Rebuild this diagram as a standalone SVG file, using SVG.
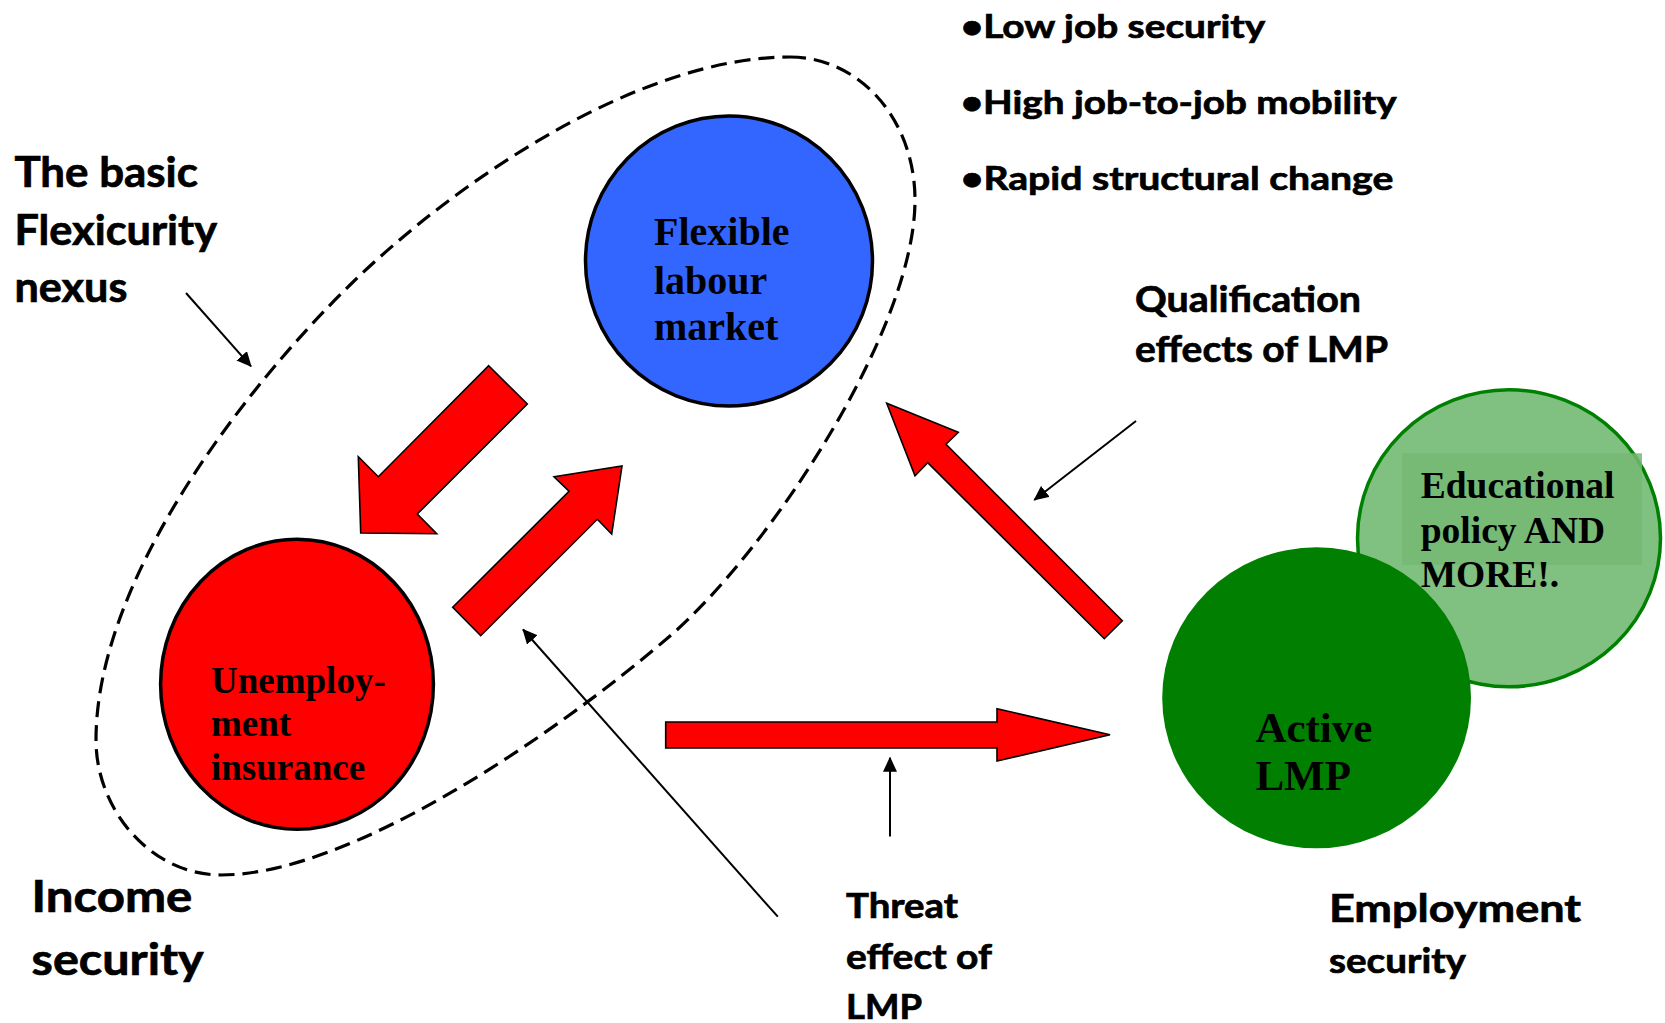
<svg xmlns="http://www.w3.org/2000/svg" width="1665" height="1023" viewBox="0 0 1665 1023">
  <style>
    .sans { font-family: Lato, "Liberation Sans", "DejaVu Sans", sans-serif; font-weight: 700; fill: #000; stroke: #000; stroke-width: 0.7; }
    .serif { font-family: "Liberation Serif", "DejaVu Serif", serif; font-weight: 700; fill: #000; }
    .block { fill: #FF0000; stroke: #000; stroke-width: 1.6; stroke-linejoin: miter; }
    .thin { fill: none; stroke: #000; stroke-width: 2; marker-end: url(#head); }
    .dash { fill: none; stroke: #000; stroke-width: 3.2; stroke-dasharray: 16 8; }
  </style>
  <defs>
    <marker id="head" viewBox="0 0 15 14" refX="14" refY="7" markerWidth="15" markerHeight="14" markerUnits="userSpaceOnUse" orient="auto">
      <path d="M0,0 L15,7 L0,14 z" fill="#000"/>
    </marker>
  </defs>
  <rect width="1665" height="1023" fill="#fff"/>

  <g id="nexus-outline">
    <path class="dash" d="M790,57 C860,57 915,120 915,200 C915,330 768.5,551 670,636 C556,734 351,875 221,875 C151,875 96,810 96,740 C96,580 243.6,388.7 351,284 C458.4,179.3 640,57 790,57 Z"/>
  </g>

  <g id="node-flexible">
    <ellipse cx="729" cy="261" rx="143.5" ry="145" fill="#3366FF" stroke="#000" stroke-width="3.5"/>
    <text class="serif" font-size="40" x="654" y="245">Flexible</text>
    <text class="serif" font-size="40" x="654" y="293.5">labour</text>
    <text class="serif" font-size="40" x="654" y="340">market</text>
  </g>

  <g id="node-unemployment">
    <ellipse cx="297" cy="684.3" rx="136.4" ry="145" fill="#FF0000" stroke="#000" stroke-width="3.5"/>
    <text class="serif" font-size="37" x="211" y="692.5">Unemploy-</text>
    <text class="serif" font-size="37" x="211" y="736">ment</text>
    <text class="serif" font-size="37" x="211" y="780">insurance</text>
  </g>

  <g id="node-educational">
    <ellipse cx="1509" cy="538.3" rx="151.5" ry="148.5" fill="#80C080" stroke="#008000" stroke-width="3.5"/>
    <rect x="1402" y="453.3" width="240" height="111.7" fill="#74B874" opacity="0.85"/>
    <text class="serif" font-size="37.5" x="1420.7" y="498.3">Educational</text>
    <text class="serif" font-size="37.5" x="1420.7" y="543">policy AND</text>
    <text class="serif" font-size="37.5" x="1420.7" y="586.7">MORE!.</text>
  </g>

  <g id="node-active">
    <ellipse cx="1316.6" cy="697.8" rx="154.4" ry="150.5" fill="#007F00"/>
    <text class="serif" font-size="43" x="1255.4" y="741.7">Active</text>
    <text class="serif" font-size="43" x="1255.4" y="790">LMP</text>
  </g>

  <g id="connectors">
    <polygon class="block" points="488.7,365.7 527.3,404 417.3,514 436.7,533.7 360.7,533 358.3,456.7 378.3,476.7"/>
    <polygon class="block" points="452.7,607.3 569,491.3 554,476.7 622,466 611.7,534 597.3,519.3 480.7,635.7"/>
    <polygon class="block" points="1122.3,620.7 946,444.3 958.3,432.3 886.7,403.3 915,475.7 927.7,462.7 1104.3,638.7"/>
    <polygon class="block" points="665.7,722 997,722 997,708.7 1110,734.7 997,761 997,748 665.7,748"/>
    <line class="thin" x1="186" y1="293" x2="251" y2="366.3"/>
    <line class="thin" x1="1136" y1="421" x2="1034.3" y2="500"/>
    <line class="thin" x1="777.8" y1="916.7" x2="523" y2="629.5"/>
    <line class="thin" x1="890" y1="836.5" x2="890" y2="757.7"/>
  </g>

  <g id="label-nexus">
    <text class="sans" font-size="42" x="14.4" y="186.5" textLength="183.5" lengthAdjust="spacingAndGlyphs">The basic</text>
    <text class="sans" font-size="42" x="14.4" y="245" textLength="202.6" lengthAdjust="spacingAndGlyphs">Flexicurity</text>
    <text class="sans" font-size="42" x="14.4" y="301.7" textLength="113" lengthAdjust="spacingAndGlyphs">nexus</text>
  </g>

  <g id="label-bullets">
    <text class="sans" font-size="33" x="960.7" y="37.5" textLength="304.5" lengthAdjust="spacingAndGlyphs">•Low job security</text>
    <text class="sans" font-size="33" x="960.7" y="113.5" textLength="436" lengthAdjust="spacingAndGlyphs">•High job-to-job mobility</text>
    <text class="sans" font-size="33" x="960.7" y="190" textLength="432.6" lengthAdjust="spacingAndGlyphs">•Rapid structural change</text>
  </g>

  <g id="label-qualification">
    <text class="sans" font-size="37" x="1135" y="311.7" textLength="226" lengthAdjust="spacingAndGlyphs">Qualification</text>
    <text class="sans" font-size="37" x="1135" y="361.7" textLength="253" lengthAdjust="spacingAndGlyphs">effects of LMP</text>
  </g>

  <g id="label-income">
    <text class="sans" font-size="44" x="31.6" y="911.7" textLength="160.7" lengthAdjust="spacingAndGlyphs">Income</text>
    <text class="sans" font-size="44" x="31.6" y="975" textLength="172" lengthAdjust="spacingAndGlyphs">security</text>
  </g>

  <g id="label-threat">
    <text class="sans" font-size="35" x="846" y="918" textLength="112" lengthAdjust="spacingAndGlyphs">Threat</text>
    <text class="sans" font-size="35" x="846" y="969" textLength="146" lengthAdjust="spacingAndGlyphs">effect of</text>
    <text class="sans" font-size="35" x="846" y="1019" textLength="76" lengthAdjust="spacingAndGlyphs">LMP</text>
  </g>

  <g id="label-employment">
    <text class="sans" font-size="39" x="1329" y="921.7" textLength="252" lengthAdjust="spacingAndGlyphs">Employment</text>
    <text class="sans" font-size="35" x="1329" y="973.3" textLength="137" lengthAdjust="spacingAndGlyphs">security</text>
  </g>
</svg>
